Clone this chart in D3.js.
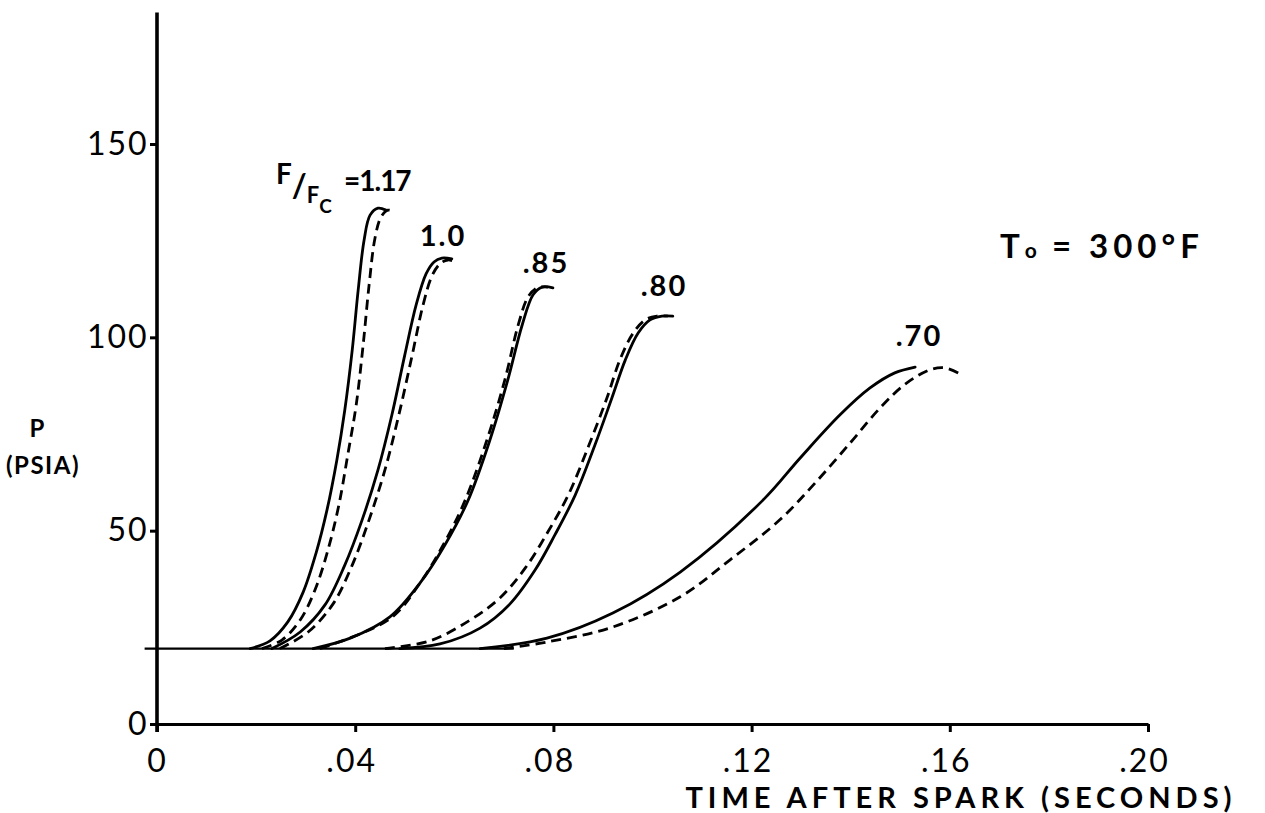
<!DOCTYPE html>
<html>
<head>
<meta charset="utf-8">
<script src="https://cdn.jsdelivr.net/npm/d3@7"></script>
<style>
  html, body { margin: 0; padding: 0; background: #fff; }
  svg { display: block; }
  text { fill: #000; }
</style>
</head>
<body>
<svg id="chart" width="1265" height="813"></svg>
<script>
// Pressure after spark, P (psia) vs time (s), for several fuel/air ratios F/Fc.
const xTicks = [0, 0.04, 0.08, 0.12, 0.16, 0.20];
const xTickLabels = ["0", ".04", ".08", ".12", ".16", ".20"];
const yTicks = [0, 50, 100, 150];
const yTickLabels = ["0", "50", "100", "150"];

const initialPressure = 19.5;
const baselineSpan = [-0.0025, 0.072];

const ratioLabels = ["1.17", "1.0", ".85", ".80", ".70"];

// solid curves: [time, pressure]
const solid117 = [[0.0188,19.5],[0.0228,21.5],[0.0264,26.4],[0.0295,34.1],[0.0321,44.2],[0.0343,55.3],[0.0363,68.3],[0.0379,81.2],[0.0394,96.7],[0.0406,112.2],[0.0418,125.2],[0.0430,131.6],[0.0446,133.4],[0.0462,132.9]];
const solid100 = [[0.0232,19.5],[0.0289,23.8],[0.0339,30.8],[0.0379,41.1],[0.0414,52.8],[0.0446,65.7],[0.0474,79.9],[0.0500,95.4],[0.0523,108.4],[0.0543,116.4],[0.0559,119.5],[0.0575,120.5],[0.0595,120.3]];
const solid85  = [[0.0315,19.5],[0.0390,22.2],[0.0470,27.7],[0.0531,36.5],[0.0581,46.3],[0.0628,57.9],[0.0672,73.5],[0.0708,89.0],[0.0737,103.2],[0.0759,111.0],[0.0777,113.0],[0.0799,112.8]];
const solid80  = [[0.0490,19.5],[0.0571,20.7],[0.0652,24.8],[0.0712,31.0],[0.0763,39.8],[0.0803,48.9],[0.0844,59.2],[0.0884,72.2],[0.0918,84.3],[0.0945,94.1],[0.0971,101.1],[0.0995,104.5],[0.1019,105.5],[0.1041,105.5]];
const solid70  = [[0.0652,19.5],[0.0787,22.2],[0.0920,28.7],[0.1056,39.3],[0.1223,57.9],[0.1298,68.8],[0.1378,79.9],[0.1439,86.9],[0.1489,90.8],[0.1530,92.3]];

// dashed curves: [time, pressure]
const dashed117 = [[0.0212,19.5],[0.0252,21.7],[0.0289,26.9],[0.0319,34.7],[0.0345,45.0],[0.0367,56.6],[0.0385,69.6],[0.0402,82.5],[0.0416,98.0],[0.0428,113.5],[0.0440,125.7],[0.0452,131.1],[0.0466,132.9],[0.0480,132.4]];
const dashed100 = [[0.0248,19.5],[0.0305,23.8],[0.0355,31.0],[0.0394,41.1],[0.0428,52.8],[0.0460,65.7],[0.0488,79.9],[0.0515,95.4],[0.0537,108.4],[0.0555,115.9],[0.0571,119.0],[0.0587,120.0],[0.0603,119.5]];
const dashed85  = [[0.0329,19.5],[0.0470,27.2],[0.0531,36.5],[0.0581,47.1],[0.0622,57.9],[0.0666,73.5],[0.0702,89.0],[0.0729,103.2],[0.0749,110.5],[0.0767,112.8],[0.0789,113.0]];
const dashed80  = [[0.0460,19.5],[0.0551,21.5],[0.0632,26.9],[0.0692,32.6],[0.0743,40.3],[0.0789,49.7],[0.0831,59.5],[0.0872,72.2],[0.0908,84.3],[0.0934,94.1],[0.0960,100.9],[0.0985,104.5],[0.1009,105.5],[0.1031,105.5]];
const dashed70  = [[0.0700,19.5],[0.0787,21.2],[0.0920,25.1],[0.1056,32.9],[0.1156,42.4],[0.1257,52.8],[0.1328,62.3],[0.1399,72.7],[0.1459,81.7],[0.1510,87.9],[0.1560,91.6],[0.1590,92.1],[0.1617,90.8]];

const solidCurves = [solid117, solid100, solid85, solid80, solid70];
const dashedCurves = [dashed117, dashed100, dashed85, dashed80, dashed70];

const svg = d3.select("#chart");
const x = d3.scaleLinear().domain([0, 0.20]).range([157, 1148]);
const y = d3.scaleLinear().domain([0, 150]).range([724, 144]);

const line = d3.line()
  .x(d => x(d[0]))
  .y(d => y(d[1]))
  .curve(d3.curveCatmullRom.alpha(0.5));

const tickFont = "Lato, 'DejaVu Sans', sans-serif";
const labelFont = "Lato, 'DejaVu Sans', sans-serif";

// axes
const xAxis = d3.axisBottom(x).tickValues(xTicks).tickFormat((d, i) => xTickLabels[i]).tickSize(8).tickSizeOuter(0);
const gx = svg.append("g").attr("transform", `translate(0,${y(0)})`).call(xAxis);
gx.select(".domain").attr("stroke", "#000").attr("stroke-width", 3.2);
gx.selectAll(".tick line").attr("stroke", "#000").attr("stroke-width", 3);
gx.selectAll(".tick text")
  .attr("font-family", tickFont).attr("letter-spacing", 2)
  .attr("font-size", 32).attr("dy", "1.15em").attr("fill", "#000")
  .attr("dx", (d, i) => i === 0 ? 0 : -4);

const yAxis = d3.axisLeft(y).tickValues(yTicks).tickFormat((d, i) => yTickLabels[i]).tickSize(7).tickSizeOuter(0);
const gy = svg.append("g").attr("transform", `translate(${x(0)},0)`).call(yAxis);
gy.select(".domain").remove();
gy.selectAll(".tick line").attr("stroke", "#000").attr("stroke-width", 3);
gy.selectAll(".tick text")
  .attr("font-family", tickFont).attr("letter-spacing", 2)
  .attr("font-size", 32).attr("dx", "0.05em").attr("fill", "#000");

// vertical axis line runs above the top tick and slightly below the horizontal axis
svg.append("line")
  .attr("x1", x(0)).attr("x2", x(0))
  .attr("y1", y(184)).attr("y2", y(0) + 8)
  .attr("stroke", "#000").attr("stroke-width", 3.6);

// initial-pressure baseline
svg.append("path")
  .datum(baselineSpan.map(t => [t, initialPressure]))
  .attr("d", d3.line().x(d => x(d[0])).y(d => y(d[1])))
  .attr("fill", "none").attr("stroke", "#000").attr("stroke-width", 2.2);

const g = svg.append("g").attr("fill", "none").attr("stroke", "#000").attr("stroke-linecap", "round");
g.selectAll("path.solid").data(solidCurves).join("path")
  .attr("class", "solid").attr("d", line).attr("stroke-width", 2.8);
g.selectAll("path.dashed").data(dashedCurves).join("path")
  .attr("class", "dashed").attr("d", line).attr("stroke-width", 2.8)
  .attr("stroke-dasharray", "10,6").attr("stroke-linecap", "butt");

// curve labels
const labelPos = [null, [443, 246], [546, 273], [664, 296], [919, 346]];
ratioLabels.forEach((lab, i) => {
  if (!labelPos[i]) return;
  svg.append("text").attr("x", labelPos[i][0]).attr("y", labelPos[i][1])
    .attr("text-anchor", "middle").attr("font-family", labelFont)
    .attr("font-weight", 700).attr("font-size", 29).attr("letter-spacing", 2).text(lab);
});

// F/Fc = 1.17 label, written as one stepped fraction
const fLabel = svg.append("text").attr("x", 276).attr("y", 184)
  .attr("font-family", labelFont).attr("font-weight", 700).attr("font-size", 28);
fLabel.append("tspan").text("F");
fLabel.append("tspan").attr("dy", 13).attr("font-size", 32).text("/");
fLabel.append("tspan").attr("dy", 6).attr("font-size", 22).text("F");
fLabel.append("tspan").attr("dy", 10).attr("font-size", 19).text("C");
svg.append("text").attr("x", 344).attr("y", 191).attr("font-family", labelFont)
  .attr("font-weight", 700).attr("font-size", 28).attr("letter-spacing", -1)
  .text("=" + ratioLabels[0]);

// initial temperature note
const tNote = svg.append("text").attr("x", 1000).attr("y", 258)
  .attr("font-family", labelFont).attr("font-weight", 700).attr("font-size", 33)
  .attr("letter-spacing", 5);
tNote.append("tspan").text("T");
tNote.append("tspan").attr("font-size", 21).attr("letter-spacing", 2).text("o");
tNote.append("tspan").text(" = 300°F");

// axis titles
svg.append("text").attr("x", 961).attr("y", 808).attr("text-anchor", "middle")
  .attr("font-family", labelFont).attr("font-weight", 700).attr("font-size", 29)
  .attr("letter-spacing", 5).text("TIME AFTER SPARK (SECONDS)");
svg.append("text").attr("x", 37).attr("y", 437).attr("text-anchor", "middle")
  .attr("font-family", labelFont).attr("font-weight", 700).attr("font-size", 24).text("P");
svg.append("text").attr("x", 43).attr("y", 474).attr("text-anchor", "middle")
  .attr("font-family", labelFont).attr("font-weight", 700).attr("font-size", 24)
  .attr("letter-spacing", 1.5).text("(PSIA)");
</script>
</body>
</html>
